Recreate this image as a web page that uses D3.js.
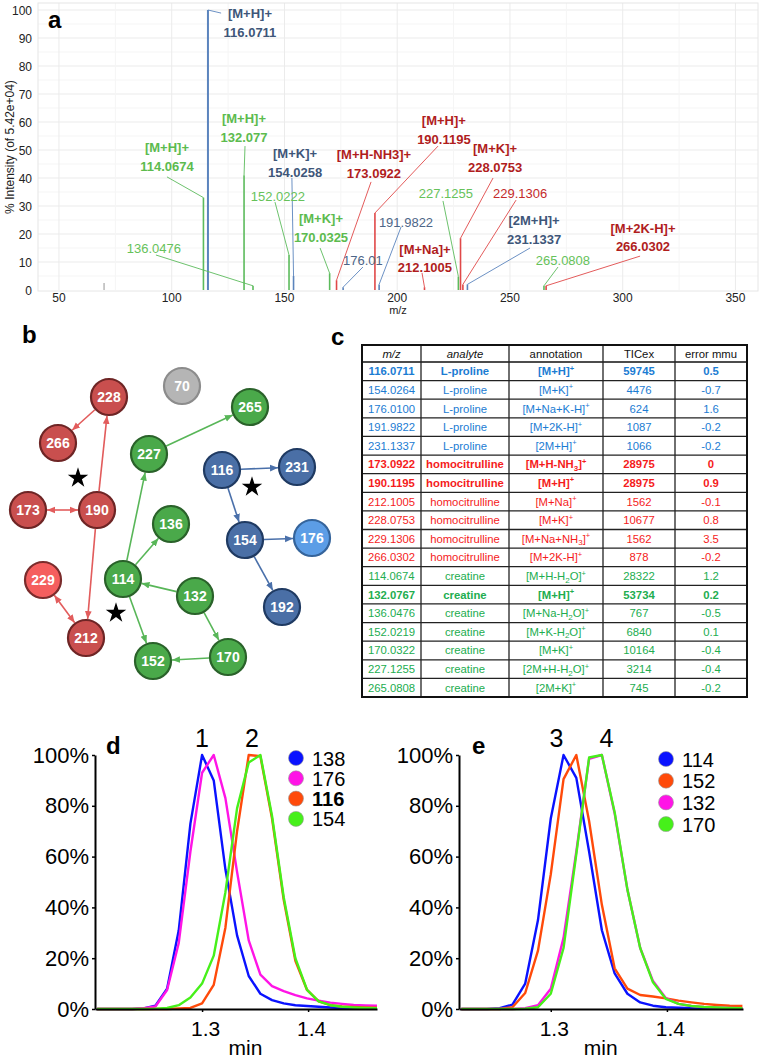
<!DOCTYPE html>
<html><head><meta charset="utf-8">
<script src="https://cdn.jsdelivr.net/npm/d3@7"></script>
<style>
body{margin:0;background:#fff}
svg{display:block}
text{font-family:"Liberation Sans",Arial,Helvetica,sans-serif}
</style>
</head><body>
<svg id="fig" width="760" height="1060"></svg>
<script>
// ---------------- DATA ----------------
// Panel a: mass spectrum
const peakMz    = [70, 114.0674, 116.0711, 132.077, 136.0476, 152.0222, 154.0258, 170.0325, 173.0922, 176.01, 190.1195, 191.9822, 212.1005, 227.1255, 228.0753, 229.1306, 231.1337, 265.0808, 266.0302];
const peakInt   = [2.5, 33, 100, 41, 1.5, 12.5, 5, 6, 3.5, 1, 27.5, 2, 1, 4.8, 18.5, 2, 2, 1.5, 1.5];
const peakGroup = ['other','creatine','proline','creatine','creatine','creatine','proline','creatine','homocit','proline','homocit','proline','homocit','creatine','homocit','homocit','proline','creatine','homocit'];
const peakAnno  = ['', '[M+H]+', '[M+H]+', '[M+H]+', '', '', '[M+K]+', '[M+K]+', '[M+H-NH3]+', '', '[M+H]+', '', '[M+Na]+', '', '[M+K]+', '', '[2M+H]+', '', '[M+2K-H]+'];
const peakLabel = ['', '114.0674', '116.0711', '132.077', '136.0476', '152.0222', '154.0258', '170.0325', '173.0922', '176.01', '190.1195', '191.9822', '212.1005', '227.1255', '228.0753', '229.1306', '231.1337', '265.0808', '266.0302'];
// label layout (in data units: m/z, % intensity)
const labelX = [null, 97.9, 134.7, 132.05, 92.1, 147.1, 154.7, 166.2, 189.7, 184.8, 220.7, 203.9, 212.3, 221.6, 243.4, 254.5, 260.7, 273.5, 309.0];
const labelY = [null, 44.3, 92.1, 54.6, 15.0, 33.6, 42.1, 18.9, 41.8, 10.7, 53.9, 24.3, 7.9, 34.6, 43.9, 34.6, 18.2, 10.4, 15.4];
const leadX  = [null, 97.9, 121.9, 132.5, 93.0, 145.8, 153.3, 165.8, 188.4, 184.8, 218.1, 201.7, 211.0, 220.3, 242.5, 252.7, 258.9, 271.3, 307.7];
const leadY  = [null, 40.4, 98.9, 51.4, 12.5, 31.4, 40.0, 15.0, 38.6, 8.2, 51.4, 22.5, 6.1, 31.8, 40.0, 32.1, 15.0, 8.2, 12.1];
const specXTicks = [50, 100, 150, 200, 250, 300, 350];
const specYTicks = [0, 10, 20, 30, 40, 50, 60, 70, 80, 90, 100];

// Panel b: network (layout units)
const nodeId    = ['228','70','265','266','227','116','231','173','190','136','154','176','229','114','132','192','212','152','170'];
const nodeGroup = ['homocit','other','creatine','homocit','creatine','proline','proline','homocit','homocit','creatine','proline','prolineLight','homocitLight','creatine','creatine','proline','homocit','creatine','creatine'];
const nodeX     = [97, 170, 238, 46, 137, 210, 285, 16, 85, 159, 233, 300, 31, 111, 183, 270, 74, 141, 216];
const nodeY     = [27, 16, 37, 73, 84, 100, 97, 140, 140, 154, 170, 168, 210, 209, 226, 237, 268, 291, 287];
const edgeFrom  = ['228','190','173','190','229','227','114','114','114','132','132','170','116','116','154','154'];
const edgeTo    = ['266','228','190','212','212','265','227','136','152','114','170','152','231','154','176','192'];
const edgeBoth  = [0,0,1,0,1,0,0,0,0,0,0,0,0,0,0,0];
const starX = [66, 240, 104];
const starY = [108, 117, 243];

// Panel c: table
const tblHeader  = ['m/z','analyte','annotation','TICex','error mmu'];
const tblMz      = ['116.0711','154.0264','176.0100','191.9822','231.1337','173.0922','190.1195','212.1005','228.0753','229.1306','266.0302','114.0674','132.0767','136.0476','152.0219','170.0322','227.1255','265.0808'];
const tblAnalyte = ['L-proline','L-proline','L-proline','L-proline','L-proline','homocitrulline','homocitrulline','homocitrulline','homocitrulline','homocitrulline','homocitrulline','creatine','creatine','creatine','creatine','creatine','creatine','creatine'];
const tblAnno    = ['[M+H]^+','[M+K]^+','[M+Na+K-H]^+','[M+2K-H]^+','[2M+H]^+','[M+H-NH_3]^+','[M+H]^+','[M+Na]^+','[M+K]^+','[M+Na+NH_3]^+','[M+2K-H]^+','[M+H-H_2O]^+','[M+H]^+','[M+Na-H_2O]^+','[M+K-H_2O]^+','[M+K]^+','[2M+H-H_2O]^+','[2M+K]^+'];
const tblTIC     = ['59745','4476','624','1087','1066','28975','28975','1562','10677','1562','878','28322','53734','767','6840','10164','3214','745'];
const tblErr     = ['0.5','-0.7','1.6','-0.2','-0.2','0','0.9','-0.1','0.8','3.5','-0.2','1.2','0.2','-0.5','0.1','-0.4','-0.4','-0.2'];
const tblBold    = [1,0,0,0,0,1,1,0,0,0,0,0,1,0,0,0,0,0];

// Panel d: extracted ion chromatograms
const timeD = [1.201,1.212,1.223,1.234,1.245,1.256,1.267,1.278,1.289,1.300,1.311,1.322,1.333,1.344,1.355,1.366,1.377,1.388,1.399,1.410,1.421,1.432,1.443,1.454,1.465];
const d138 = [0,0,0,0,0.2,1.3,8,31,73,100,90,55,29,13,6,3.5,2.2,1.5,1.2,0.9,0.6,0.4,0.3,0.2,0.2];
const d176 = [0,0,0,0,0.3,1,7.5,26,62,93,100,83,54,27,13.5,9,7,5.5,4.2,3.3,2.5,2,1.6,1.4,1.3];
const d116 = [0,0,0,0,0,0,0,0.2,0.4,2.2,9.5,32,70,100,99.5,75,43,19,7.5,3,1.5,1,0.8,0.6,0.5];
const d154 = [0,0,0,0,0,0.1,0.4,1.5,4.5,10,21,46,79,97,100,76,44,20,7.5,3,1.5,0.9,0.6,0.4,0.3];
const legendD = ['138','176','116','154'];
const peakNumD = ['1','2'];
const peakNumTimeD = [1.300, 1.347];

// Panel e
const timeE = [1.223,1.234,1.245,1.256,1.267,1.278,1.289,1.300,1.311,1.322,1.333,1.344,1.355,1.366,1.377,1.388,1.399,1.410,1.421,1.432,1.443,1.454,1.465];
const e114 = [0,0,0,0.3,1.7,10,35,75,100,91,62,31,14,6,2.6,1.3,0.7,0.5,0.3,0.2,0.1,0.1,0.1];
const e152 = [0,0,0,0,0.7,6.3,23,53,90.5,100,74,41,16,8,5.5,4.9,4.2,3.3,2.6,2,1.6,1.3,1.2];
const e132 = [0,0,0,0,0,0.3,1.5,8,28,62,98.5,100,77,47,24,11,4.3,2,1.2,0.8,0.6,0.4,0.3];
const e170 = [0,0,0,0,0,0.1,0.7,6,24,61,99,100,77.5,47,24,10.5,4,2,1.2,0.8,0.6,0.4,0.3];
const legendE = ['114','152','132','170'];
const peakNumE = ['3','4'];
const peakNumTimeE = [1.305, 1.348];
const chromYTicks = [0,20,40,60,80,100];
const chromXTicks = [1.3,1.4];

// ---------------- STYLE ----------------
const svg = d3.select('#fig');
const peakColor  = {proline:'#5b84bd', creatine:'#5cbb5c', homocit:'#e04848', other:'#bdbdbd'};
const labelColor = {proline:'#3e5679', creatine:'#5cbb4e', homocit:'#b01d1d', other:'#999'};
const normColor  = {proline:'#4d6688', creatine:'#66c25a', homocit:'#c42a2a', other:'#999'};

// ---------------- PANEL A ----------------
(function(){
  const g = svg.append('g');
  const x = d3.scaleLinear().domain([40.7, 360]).range([38, 758]);
  const y = d3.scaleLinear().domain([0, 100]).range([290, 10]);
  g.selectAll('.gy').data(d3.range(5, 101, 5)).join('line')
    .attr('x1', x.range()[0]).attr('x2', x.range()[1])
    .attr('y1', d=>y(d)).attr('y2', d=>y(d))
    .attr('stroke', d=> d%10===0 ? '#ebebeb' : '#f5f5f5').attr('stroke-width',1);
  g.selectAll('.gx').data(d3.range(50, 351, 25)).join('line')
    .attr('x1', d=>x(d)).attr('x2', d=>x(d))
    .attr('y1', 3).attr('y2', y(0))
    .attr('stroke', d=> d%50===0 ? '#ebebeb' : '#f5f5f5').attr('stroke-width',1);
  g.append('rect').attr('x',38).attr('y',3).attr('width',720).attr('height',y(0)-3+1)
    .attr('fill','none').attr('stroke','#e6e6e6');
  g.selectAll('.yt').data(specYTicks).join('text')
    .attr('x', 32).attr('y', d=>y(d)+4.5).attr('text-anchor','end')
    .attr('font-size',12).attr('fill','#222').text(d=>d);
  g.selectAll('.xt').data(specXTicks).join('text')
    .attr('x', d=>x(d)).attr('y', 302).attr('text-anchor','middle')
    .attr('font-size',12).attr('fill','#222').text(d=>d);
  g.append('text').attr('x', 398).attr('y', 314).attr('text-anchor','middle')
    .attr('font-size',11).attr('fill','#222').text('m/z');
  g.append('text').attr('transform','translate(14,147) rotate(-90)').attr('text-anchor','middle')
    .attr('font-size',12).attr('fill','#222').text('% Intensity (of 5.42e+04)');
  const idx = d3.range(peakMz.length);
  g.selectAll('.pk').data(idx).join('line')
    .attr('x1', i=>x(peakMz[i])).attr('x2', i=>x(peakMz[i]))
    .attr('y1', y(0)).attr('y2', i=>y(peakInt[i]))
    .attr('stroke', i=>peakColor[peakGroup[i]])
    .attr('stroke-width', i=> peakInt[i]===100 ? 2 : 1.6);
  const lab = idx.filter(i=>peakLabel[i]);
  g.selectAll('.ld').data(lab).join('line')
    .attr('x1', i=>x(peakMz[i])).attr('y1', i=>y(peakInt[i]))
    .attr('x2', i=>x(leadX[i])).attr('y2', i=>y(leadY[i]))
    .attr('stroke', i=>peakColor[peakGroup[i]]).attr('stroke-width',0.9);
  lab.forEach(i=>{
    const cx = x(labelX[i]), cy = y(labelY[i]);
    const bold = !!peakAnno[i];
    if (bold) {
      g.append('text').attr('x',cx).attr('y',cy-18.5+4.6).attr('text-anchor','middle')
        .attr('font-size',13).attr('font-weight','bold').attr('fill',labelColor[peakGroup[i]]).text(peakAnno[i]);
    }
    g.append('text').attr('x',cx).attr('y',cy+4.6).attr('text-anchor','middle')
      .attr('font-size',13).attr('font-weight', bold?'bold':'normal')
      .attr('fill', bold ? labelColor[peakGroup[i]] : normColor[peakGroup[i]]).text(peakLabel[i]);
  });
  svg.append('text').attr('x',48).attr('y',28).attr('font-size',24).attr('font-weight','bold').text('a');
})();

// ---------------- PANEL B ----------------
(function(){
  const g = svg.append('g');
  const bx = d3.scaleLinear().domain([0,300]).range([12,312]);
  const by = d3.scaleLinear().domain([0,300]).range([370,670]);
  const fill = {homocit:'#c94f4e', homocitLight:'#f55e5e', creatine:'#4aa94a', proline:'#4a6fa6', prolineLight:'#5c9de6', other:'#b5b5b5'};
  const strk = {homocit:'#6e2525', homocitLight:'#7a2c2c', creatine:'#2a622a', proline:'#1f3a62', prolineLight:'#35649b', other:'#8c8c8c'};
  const edgeCol = {homocit:'#e25c5c', creatine:'#58b658', proline:'#4a70aa'};
  const R = 18;
  const defs = svg.append('defs');
  Object.entries(edgeCol).forEach(([k,c])=>{
    defs.append('marker').attr('id','ar-'+k).attr('viewBox','0 -5 10 10')
      .attr('refX',10).attr('refY',0).attr('markerWidth',8).attr('markerHeight',8)
      .attr('markerUnits','userSpaceOnUse').attr('orient','auto-start-reverse')
      .append('path').attr('d','M0,-4.2L10,0L0,4.2Z').attr('fill',c);
  });
  const pos = {};
  nodeId.forEach((id,i)=>{ pos[id] = {x:bx(nodeX[i]), y:by(nodeY[i]), grp:nodeGroup[i].replace('Light','')}; });
  edgeFrom.forEach((f,i)=>{
    const a = pos[f], b = pos[edgeTo[i]];
    const dx = b.x-a.x, dy = b.y-a.y, L = Math.hypot(dx,dy);
    const ux = dx/L, uy = dy/L;
    const col = edgeCol[a.grp];
    const ln = g.append('line')
      .attr('x1', a.x+ux*(R+1)).attr('y1', a.y+uy*(R+1))
      .attr('x2', b.x-ux*(R+1)).attr('y2', b.y-uy*(R+1))
      .attr('stroke', col).attr('stroke-width',1.6)
      .attr('marker-end','url(#ar-'+a.grp+')');
    if (edgeBoth[i]) ln.attr('marker-start','url(#ar-'+a.grp+')');
  });
  const ng = g.selectAll('.nd').data(d3.range(nodeId.length)).join('g')
    .attr('transform', i=>`translate(${bx(nodeX[i])},${by(nodeY[i])})`);
  ng.append('circle').attr('r',R).attr('fill',i=>fill[nodeGroup[i]]).attr('stroke',i=>strk[nodeGroup[i]]).attr('stroke-width',2.2);
  ng.append('text').attr('text-anchor','middle').attr('y',5).attr('font-size',14).attr('font-weight','bold')
    .attr('fill','#fff').text(i=>nodeId[i]);
  const star = d3.symbol().type(d3.symbolStar).size(130);
  g.selectAll('.st').data(d3.range(starX.length)).join('path')
    .attr('d', star).attr('transform', i=>`translate(${bx(starX[i])},${by(starY[i])})`).attr('fill','#000');
  svg.append('text').attr('x',22).attr('y',343).attr('font-size',24).attr('font-weight','bold').text('b');
})();

// ---------------- PANEL C ----------------
(function(){
  const g = svg.append('g');
  const colX = [362,421,509,603,675,747];
  const headTop = 345, rowTop = 362, rowBot = 697;
  const FS = 11.3;
  const rowY = d3.scaleLinear().domain([0, tblMz.length]).range([rowTop, rowBot]);
  const tcol = {'L-proline':'#1b7cd3','homocitrulline':'#f51c1c','creatine':'#22ad4f'};
  d3.range(1, tblMz.length).forEach(i=>{
    g.append('line').attr('x1',colX[0]).attr('x2',colX[5]).attr('y1',rowY(i)).attr('y2',rowY(i)).attr('stroke','#222').attr('stroke-width',1.3);
  });
  g.append('line').attr('x1',colX[0]).attr('x2',colX[5]).attr('y1',rowTop).attr('y2',rowTop).attr('stroke','#111').attr('stroke-width',1.6);
  colX.slice(1,-1).forEach(cx=>{
    g.append('line').attr('x1',cx).attr('x2',cx).attr('y1',headTop).attr('y2',rowBot).attr('stroke','#222').attr('stroke-width',1.3);
  });
  g.append('rect').attr('x',colX[0]).attr('y',headTop).attr('width',colX[5]-colX[0]).attr('height',rowBot-headTop)
    .attr('fill','none').attr('stroke','#111').attr('stroke-width',2);
  const cc = d3.range(5).map(j=>(colX[j]+colX[j+1])/2);
  tblHeader.forEach((h,j)=>{
    g.append('text').attr('x',cc[j]).attr('y',(headTop+rowTop)/2+4).attr('text-anchor','middle')
      .attr('font-size',FS).attr('font-style', j<2?'italic':'normal').attr('fill','#111').text(h);
  });
  function anno(t, str){
    let i=0, pend=0;
    while(i<str.length){
      const ch = str[i];
      if(ch==='^'){ t.append('tspan').attr('dy',pend-4.5).attr('font-size',7.5).text(str[i+1]); pend=4.5; i+=2; }
      else if(ch==='_'){ t.append('tspan').attr('dy',pend+2.5).attr('font-size',8).text(str[i+1]); pend=-2.5; i+=2; }
      else { let j=i; while(j<str.length && str[j]!=='^' && str[j]!=='_') j++; t.append('tspan').attr('dy',pend).text(str.slice(i,j)); pend=0; i=j; }
    }
  }
  tblMz.forEach((m,i)=>{
    const yy = (rowY(i)+rowY(i+1))/2 + 4;
    const col = tcol[tblAnalyte[i]];
    const fw = tblBold[i] ? 'bold' : 'normal';
    const vals = [m, tblAnalyte[i], null, tblTIC[i], tblErr[i]];
    vals.forEach((v,j)=>{
      const t = g.append('text').attr('x',cc[j]).attr('y',yy).attr('text-anchor','middle')
        .attr('font-size',FS).attr('font-weight',fw).attr('fill',col);
      if (j===2) anno(t, tblAnno[i]); else t.text(v);
    });
  });
  svg.append('text').attr('x',331).attr('y',345).attr('font-size',24).attr('font-weight','bold').text('c');
})();

// ---------------- PANELS D & E ----------------
const chromColors = ['#0a12ff','#ff14e6','#ff4a0a','#46f01a'];
function chrom(cfg){
  const g = svg.append('g');
  const x = d3.scaleLinear().domain(cfg.xdom).range([cfg.x0, cfg.x1]);
  const y = d3.scaleLinear().domain([0,100]).range([1009, 755]);
  const line = d3.line().x((d,i)=>x(cfg.time[i])).y(d=>y(d));
  cfg.order.forEach(k=>{
    g.append('path').datum(cfg.series[k]).attr('d', line).attr('fill','none')
      .attr('stroke', cfg.colors[k]).attr('stroke-width',2.4).attr('stroke-linejoin','round');
  });
  const ya = g.append('g').attr('transform',`translate(${cfg.x0},0)`)
    .call(d3.axisLeft(y).tickValues(chromYTicks).tickFormat(d=>d+'%').tickSize(3).tickSizeOuter(0).tickPadding(3));
  const xa = g.append('g').attr('transform','translate(0,1009)')
    .call(d3.axisBottom(x).tickValues(chromXTicks).tickFormat(d3.format('.1f')).tickSize(3).tickSizeOuter(0).tickPadding(9));
  [ya, xa].forEach(a=>{
    a.select('.domain').attr('stroke','#000').attr('stroke-width',2);
    a.selectAll('.tick line').attr('stroke','#000').attr('stroke-width',1.5);
    a.selectAll('.tick text').attr('font-size',22).attr('fill','#000')
      .attr('font-family','"Liberation Sans",Arial,sans-serif');
  });
  xa.selectAll('.tick text').attr('font-size',21).attr('dx',3);
  g.append('text').attr('x', x(cfg.minAt)).attr('y',1055).attr('text-anchor','middle').attr('font-size',21).text('min');
  cfg.peakNum.forEach((n,i)=>{
    g.append('text').attr('x', x(cfg.peakNumTime[i])).attr('y',747).attr('text-anchor','middle').attr('font-size',25).text(n);
  });
  g.append('text').attr('x',cfg.letterX).attr('y',754).attr('font-size',24).attr('font-weight','bold').text(cfg.letter);
  cfg.legend.forEach((l,i)=>{
    const cy = cfg.legY0 + i*cfg.legDy;
    g.append('circle').attr('cx',cfg.legX).attr('cy',cy).attr('r',7.5).attr('fill',cfg.colors[i]).attr('stroke','#999').attr('stroke-width',0.6);
    g.append('text').attr('x',cfg.legX+16).attr('y',cy+7.5).attr('font-size',20)
      .attr('font-weight', cfg.boldIdx===i ? 'bold':'normal').text(l);
  });
}
chrom({time: timeD, series:[d138,d176,d116,d154], colors: chromColors, order:[0,1,2,3],
  xdom:[1.199,1.465], x0:95, x1:377, legend: legendD, boldIdx:2, legX:296, legY0:758, legDy:20.3,
  peakNum: peakNumD, peakNumTime: peakNumTimeD, letter:'d', letterX:106, minAt:1.341});
chrom({time: timeE, series:[e114,e152,e132,e170], colors:['#0a12ff','#ff4a0a','#ff14e6','#46f01a'], order:[0,1,2,3],
  xdom:[1.221,1.4655], x0:459, x1:743, legend: legendE, boldIdx:-1, legX:666, legY0:759, legDy:21.7,
  peakNum: peakNumE, peakNumTime: peakNumTimeE, letter:'e', letterX:472, minAt:1.343});
</script>
</body></html>
